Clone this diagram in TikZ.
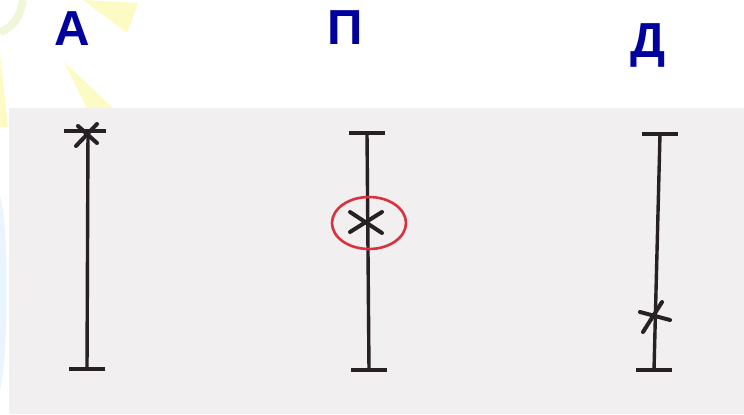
\documentclass[tikz,border=0pt]{standalone}
\usepackage{fontspec}
\newfontfamily\letterfont{Liberation Sans}
\usetikzlibrary{positioning}
\definecolor{letterblue}{HTML}{00009E}
\definecolor{ink}{HTML}{272024}
\definecolor{panelgrey}{HTML}{F1EFF0}
\definecolor{ringred}{HTML}{D8323E}
\definecolor{sunyellow}{HTML}{FDFBC4}
\definecolor{palegreen}{HTML}{EEF7DA}
\definecolor{paleblue}{HTML}{E8F5FD}

\begin{document}
\begin{tikzpicture}[x=0.5pt, y=-0.5pt,
  letter/.style={font=\letterfont\bfseries\fontsize{24.6}{28}\selectfont, text=letterblue, inner sep=0pt, anchor=base},
  rod/.style={draw=ink, line width=1.7pt},
  endbar/.style={draw=ink, line width=2.2pt},
  cross/.style={draw=ink, line width=2pt, line cap=round},
  ring/.style={draw=ringred, line width=1.3pt}
]
\useasboundingbox (0,0) rectangle (744,414);

% backdrop
\fill[sunyellow] (83,0) -- (138,3) -- (127,33) -- cycle;
\fill[sunyellow] (64,62) -- (87,108) -- (113,108) -- cycle;
\fill[sunyellow] (0,53) -- (8,127) -- (0,127) -- cycle;
\draw[palegreen, line width=4pt] (23,0) .. controls (20,18) and (12,28) .. (0,32);
\fill[paleblue] (0,195) .. controls (9,230) and (9,350) .. (0,390) -- cycle;
\fill[panelgrey] (9,108) rectangle (744,414);

\node[letter] (a) at (72,45) {А};
\node[letter] (p) at (345,44) {П};
\node[letter] (d) at (648,57) {Д};

\coordinate (a-top) at (88,131);
\coordinate (a-bot) at (87,369);
\coordinate (p-top) at (367,133);
\coordinate (p-bot) at (369,370);
\coordinate (d-top) at (660,134);
\coordinate (d-bot) at (654,370);

\foreach \r in {a,p,d} {
  \draw[rod] (\r-top) -- (\r-bot);
  \draw[endbar] ([xshift=-9pt]\r-top) -- ([xshift=9pt]\r-top);
  \draw[endbar] ([xshift=-9pt]\r-bot) -- ([xshift=9pt]\r-bot);
}

\coordinate (a-mark) at (87,134);
\coordinate (p-mark) at (366,222);
\coordinate (d-mark) at (653,316);

\draw[endbar] ([xshift=-12pt]a-top) -- ([xshift=8pt]a-top);
\draw[cross] ([shift={(-11,12)}]a-mark) -- ([shift={(10,-10)}]a-mark);
\draw[cross] ([shift={(-9,-8)}]a-mark) -- ([shift={(10,9)}]a-mark);
\draw[cross] ([shift={(-16,10)}]p-mark) -- ([shift={(16,-10)}]p-mark);
\draw[cross] ([shift={(-16,-10)}]p-mark) -- ([shift={(16,11)}]p-mark);
\draw[cross] ([shift={(-13,-4)}]d-mark) -- ([shift={(17,4)}]d-mark);
\draw[cross] ([shift={(9,-14)}]d-mark) -- ([shift={(-10,16)}]d-mark);
\draw[ring] (369,223) ellipse [x radius=37, y radius=26];
\end{tikzpicture}
\end{document}
